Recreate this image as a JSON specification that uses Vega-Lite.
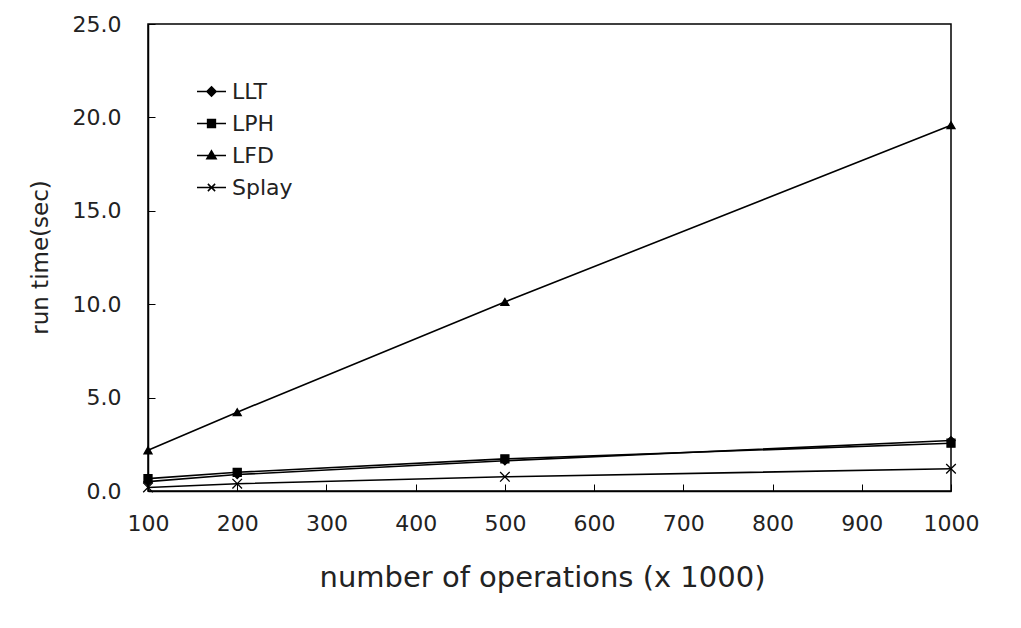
{
  "$schema": "https://vega.github.io/schema/vega-lite/v6.json",
  "width": 803,
  "height": 467,
  "autosize": {"type": "none"},
  "padding": {"left": 148, "top": 24, "right": 70, "bottom": 137},
  "background": "white",
  "config": {
    "font": "DejaVu Sans",
    "view": {"stroke": "black", "strokeWidth": 1.5},
    "axis": {"grid": false, "domainColor": "black", "tickColor": "black", "labelColor": "#222", "titleColor": "#222", "labelFont": "DejaVu Sans", "titleFont": "DejaVu Sans", "titleFontWeight": "normal"}
  },
  "data": {
    "values": [
      {"ops": 100, "series": "LLT", "time": 0.5},
      {"ops": 200, "series": "LLT", "time": 0.88},
      {"ops": 500, "series": "LLT", "time": 1.62},
      {"ops": 1000, "series": "LLT", "time": 2.7},
      {"ops": 100, "series": "LPH", "time": 0.66},
      {"ops": 200, "series": "LPH", "time": 1.0},
      {"ops": 500, "series": "LPH", "time": 1.72},
      {"ops": 1000, "series": "LPH", "time": 2.56},
      {"ops": 100, "series": "LFD", "time": 2.18},
      {"ops": 200, "series": "LFD", "time": 4.22},
      {"ops": 500, "series": "LFD", "time": 10.12},
      {"ops": 1000, "series": "LFD", "time": 19.58},
      {"ops": 100, "series": "Splay", "time": 0.19},
      {"ops": 200, "series": "Splay", "time": 0.39},
      {"ops": 500, "series": "Splay", "time": 0.76},
      {"ops": 1000, "series": "Splay", "time": 1.19}
    ]
  },
  "encoding": {
    "x": {
      "field": "ops", "type": "quantitative",
      "scale": {"domain": [100, 1000], "nice": false, "zero": false},
      "axis": {
        "values": [100, 200, 300, 400, 500, 600, 700, 800, 900, 1000],
        "format": "d",
        "labelFlush": false,
        "labelOverlap": false,
        "title": "number of operations (x 1000)",
        "labelFontSize": 22, "titleFontSize": 29,
        "tickSize": -7, "labelPadding": 29,
        "titleX": 394, "titleY": 86, "titleBaseline": "middle", "titleAlign": "center",
        "domainWidth": 1.5
      }
    },
    "y": {
      "field": "time", "type": "quantitative",
      "scale": {"domain": [0, 25], "nice": false},
      "axis": {
        "values": [0, 5, 10, 15, 20, 25],
        "format": ".1f",
        "labelFlush": false,
        "labelOverlap": false,
        "title": "run time(sec)",
        "labelFontSize": 22, "titleFontSize": 23,
        "tickSize": -7, "labelPadding": 34,
        "titleX": -108, "titleY": 233, "titleAngle": -90, "titleBaseline": "middle", "titleAlign": "center",
        "domainWidth": 1.5
      }
    }
  },
  "layer": [
    {
      "mark": {"type": "line", "color": "black", "strokeWidth": 1.6},
      "encoding": {"detail": {"field": "series", "type": "nominal"}}
    },
    {
      "transform": [{"filter": "datum.series === 'LLT'"}],
      "mark": {"type": "point", "filled": true, "fill": "black", "stroke": "black", "strokeWidth": 1.3, "opacity": 1, "size": 64, "shape": "diamond"}
    },
    {
      "transform": [{"filter": "datum.series === 'LPH'"}],
      "mark": {"type": "point", "filled": true, "fill": "black", "stroke": "black", "strokeWidth": 1.3, "opacity": 1, "size": 64, "shape": "square"}
    },
    {
      "transform": [{"filter": "datum.series === 'LFD'"}],
      "mark": {"type": "point", "filled": true, "fill": "black", "stroke": "black", "strokeWidth": 1.3, "opacity": 1, "size": 64, "shape": "triangle-up"}
    },
    {
      "transform": [{"filter": "datum.series === 'Splay'"}],
      "mark": {"type": "point", "filled": false, "stroke": "black", "strokeWidth": 1.3, "opacity": 1, "size": 64, "shape": "M-1.2,-1.2L1.2,1.2M-1.2,1.2L1.2,-1.2"}
    },
    {
      "mark": {"type": "point", "filled": true, "stroke": "black", "strokeWidth": 1.5, "opacity": 0, "size": 64},
      "encoding": {
        "color": {
          "field": "series", "type": "nominal",
          "scale": {"domain": ["LLT", "LPH", "LFD", "Splay"], "range": ["black", "black", "black", "black"]},
          "legend": {
            "title": null, "orient": "none", "legendX": 48, "legendY": 52,
            "labelFontSize": 22, "labelColor": "#222", "labelFont": "DejaVu Sans",
            "symbolSize": 841, "symbolOpacity": 1, "symbolStrokeWidth": 1.5,
            "symbolType": {"expr": "datum.value === 'LLT' ? 'M-1,0L1,0M0,-0.32L0.32,0L0,0.32L-0.32,0Z' : datum.value === 'LPH' ? 'M-1,0L1,0M-0.27,-0.27L0.27,-0.27L0.27,0.27L-0.27,0.27Z' : datum.value === 'LFD' ? 'M-1,0L1,0M0,-0.32L0.32,0.23L-0.32,0.23Z' : 'M-1,0L1,0M-0.25,-0.25L0.25,0.25M-0.25,0.25L0.25,-0.25'"},
            "rowPadding": 5, "labelOffset": 5,
            "encode": {"symbols": {
              "opacity": {"value": 1},
              "size": {"value": 841},
              "stroke": {"value": "black"},
              "strokeWidth": {"value": 1.5}
            }}
          }
        }
      }
    }
  ]
}
